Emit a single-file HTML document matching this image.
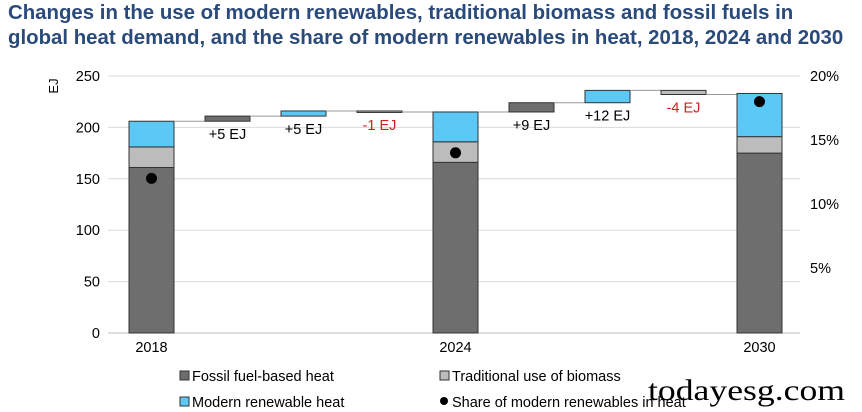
<!DOCTYPE html>
<html><head><meta charset="utf-8"><style>
body{margin:0;background:#fff;font-family:"Liberation Sans",sans-serif;}
#t{position:absolute;left:8px;top:1px;font-size:20.4px;font-weight:bold;color:#2a4a7a;line-height:25px;width:860px;white-space:nowrap}
</style></head><body>
<div id="t">Changes in the use of modern renewables, traditional biomass and fossil fuels in<br>global heat demand, and the share of modern renewables in heat, 2018, 2024 and 2030</div>
<svg id="c" width="862" height="412" style="position:absolute;left:0;top:0" font-family="Liberation Sans, sans-serif"></svg>
<script>
const totals=["2018","2024","2030"];
const fossil=[161,166,175];
const biomass=[20,20,16];
const modern=[25,29,42];
const share=[12,14,18];
const stepKinds=["fossil","modern","biomass","fossil","modern","biomass"];
const stepVals=[5,5,-1,9,12,-4];
const stepLabels=["+5 EJ","+5 EJ","-1 EJ","+9 EJ","+12 EJ","-4 EJ"];
const yTicks=[0,50,100,150,200,250];
const rTicks=[5,10,15,20];
const svg=document.getElementById('c');const NS="http://www.w3.org/2000/svg";
function el(t,a,txt){const e=document.createElementNS(NS,t);for(const k in a)e.setAttribute(k,a[k]);if(txt!==undefined)e.textContent=txt;svg.appendChild(e);return e;}
const y=v=>333-v*257/250;const yr=p=>332-p*64/5;
const slotX=i=>129+i*76;const BW=45;
const col={fossil:"#6e6e6e",biomass:"#bcbcbc",modern:"#5bc8f5"};
yTicks.forEach(v=>{if(v>0){const g=el('line',{x1:108,x2:800,y1:y(v),y2:y(v),stroke:'#d9d9d9'});}
const t=el('text',{x:100,y:y(v)+5,'text-anchor':'end','font-size':14.5},v);});
el('line',{x1:108,x2:800,y1:333,y2:333,stroke:'#bfbfbf'});
rTicks.forEach(p=>{const t=el('text',{x:810,y:yr(p)+5,'font-size':14.5},p+'%');});
const ya=el('text',{x:58,y:86,'font-size':13,transform:'rotate(-90 58 86)','text-anchor':'middle'},'EJ');
function rect(x,v0,v1,c,name){const a=Math.min(v0,v1),b=Math.max(v0,v1);const r=el('rect',{x:x,y:y(b),width:BW,height:Math.max(y(a)-y(b),1.5),fill:col[c],stroke:'#333','stroke-width':1});return r;}
let level=0;
totals.forEach((yr_,k)=>{
 const x=slotX(k*4);
 rect(x,0,fossil[k],'fossil','bar-fossil-'+yr_);
 rect(x,fossil[k],fossil[k]+biomass[k],'biomass','bar-biomass-'+yr_);
 const tot=fossil[k]+biomass[k]+modern[k];
 rect(x,fossil[k]+biomass[k],tot,'modern','bar-modern-'+yr_);
 const d=el('circle',{cx:x+BW/2,cy:yr(share[k]),r:5.5,fill:'#000'});
 const l=el('text',{x:x+BW/2,y:352,'text-anchor':'middle','font-size':14.5},yr_);
 if(k<2){level=tot;
  for(let j=0;j<3;j++){const s=k*3+j;const sx=slotX(k*4+j+1);const nl=level+stepVals[s];
   const cn=el('line',{x1:sx-31,x2:sx,y1:y(level),y2:y(level),stroke:'#999'});
   rect(sx,level,nl,stepKinds[s],'step-bar-'+s);
   const lb=el('text',{x:sx+BW/2,y:y(Math.min(level,nl))+18,'text-anchor':'middle','font-size':14.5,fill:stepVals[s]<0?'#d02020':'#000'},stepLabels[s]);
   level=nl;}
  const cn=el('line',{x1:slotX(k*4+4)-31,x2:slotX(k*4+4),y1:y(level),y2:y(level),stroke:'#999'});
 }
});
const leg=[[180,376,'fossil','Fossil fuel-based heat'],[440,376,'biomass','Traditional use of biomass'],[180,402,'modern','Modern renewable heat']];
leg.forEach(L=>{const r=el('rect',{x:L[0],y:L[1]-5,width:9,height:9,fill:col[L[2]],stroke:'#333'});
const t=el('text',{x:L[0]+12,y:L[1]+5,'font-size':14.5},L[3]);});
const lc=el('circle',{cx:444,cy:401,r:4,fill:'#000'});
const lt=el('text',{x:452,y:407,'font-size':14.5},'Share of modern renewables in heat');
const w=el('text',{x:648,y:400,'font-size':30,'font-family':'Liberation Serif, serif',textLength:197,lengthAdjust:'spacingAndGlyphs'},'todayesg.com');
</script>
</body></html>
